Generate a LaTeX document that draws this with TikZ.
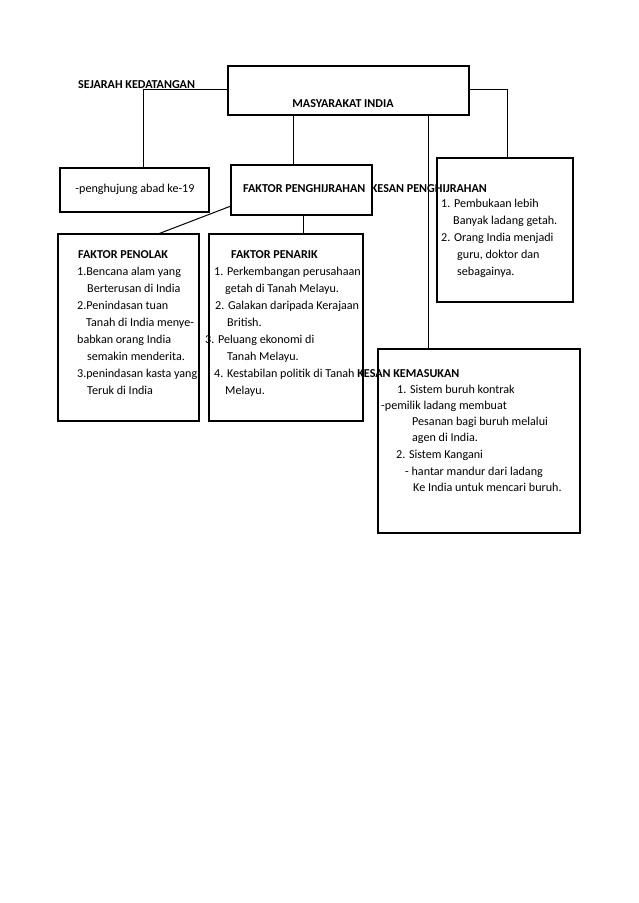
\documentclass[tikz,border=0pt]{standalone}
\usepackage{fontspec}
\setmainfont{Carlito}
\begin{document}
\begin{tikzpicture}[x=1pt,y=-1pt,
  box/.style={draw, line width=2.2pt, rectangle, inner sep=0, outer sep=0, anchor=north west},
  conn/.style={draw, line width=1pt},
  txt/.style={anchor=base west, inner sep=0, font=\fontsize{12.1}{17}\selectfont},
  ctxt/.style={anchor=base, inner sep=0, font=\fontsize{12.1}{17}\selectfont}]
\useasboundingbox (0,0) rectangle (638,903);
% texts
\node[txt] (sej) at (78,88) {\textbf{SEJARAH KEDATANGAN}};
\node[ctxt] (mi) at (343,107) {\textbf{MASYARAKAT INDIA}};
\node[ctxt] (ph) at (135,192) {-penghujung abad ke-19};
\node[txt] (fph) at (243,192) {\textbf{FAKTOR PENGHIJRAHAN\ \ KESAN PENGHIJRAHAN}};
% kesan penghijrahan
\node[txt] (k1) at (441,207) {1. Pembukaan lebih};
\node[txt] (k2) at (453,224) {Banyak ladang getah.};
\node[txt] (k3) at (441,241) {2. Orang India menjadi};
\node[txt] (k4) at (457,258) {guru, doktor dan};
\node[txt] (k5) at (457,275) {sebagainya.};
% penolak
\node[txt] (p0) at (78,258) {\textbf{FAKTOR PENOLAK}};
\node[txt] (p1) at (77,275) {1.Bencana alam yang};
\node[txt] (p2) at (87,292) {Berterusan di India};
\node[txt] (p3) at (77,309) {2.Penindasan tuan};
\node[txt] (p4) at (86,326) {Tanah di India menye-};
\node[txt] (p5) at (77,343) {babkan orang India};
\node[txt] (p6) at (87,360) {semakin menderita.};
\node[txt] (p7) at (77,377) {3.penindasan kasta yang};
\node[txt] (p8) at (87,394) {Teruk di India};
% penarik
\node[txt] (r0) at (231,258) {\textbf{FAKTOR PENARIK}};
\node[txt] (r1) at (214,275) {1. Perkembangan perusahaan};
\node[txt] (r2) at (225,292) {getah di Tanah Melayu.};
\node[txt] (r3) at (215,309) {2. Galakan daripada Kerajaan};
\node[txt] (r4) at (227,326) {British.};
\node[txt] (r5) at (205,343) {3. Peluang ekonomi di};
\node[txt] (r6) at (227,360) {Tanah Melayu.};
\node[txt] (r7) at (214,377) {4. Kestabilan politik di Tanah \textbf{KESAN KEMASUKAN}};
\node[txt] (r8) at (225,394) {Melayu.};
% kesan kemasukan
\node[txt] (m1) at (397,393) {1. Sistem buruh kontrak};
\node[txt] (m2) at (381,409) {-pemilik ladang membuat};
\node[txt] (m3) at (412,425) {Pesanan bagi buruh melalui};
\node[txt] (m4) at (412,441) {agen di India.};
\node[txt] (m5) at (396,458) {2. Sistem Kangani};
\node[txt] (m6) at (405,475) {- hantar mandur dari ladang};
\node[txt] (m7) at (413,491) {Ke India untuk mencari buruh.};
% boxes
\node[box, minimum width=241pt, minimum height=49pt] (main) at (228,66) {};
\node[box, minimum width=149pt, minimum height=44pt] (left) at (60,168) {};
\node[box, minimum width=141pt, minimum height=50pt] (fp) at (231,165) {};
\node[box, minimum width=136pt, minimum height=144pt] (kp) at (437,158) {};
\node[box, minimum width=141pt, minimum height=187pt] (pen) at (58,234) {};
\node[box, minimum width=154pt, minimum height=187pt] (par) at (209,234) {};
\node[box, minimum width=202pt, minimum height=184pt] (km) at (378,349) {};
% connectors
\coordinate (c1) at (143,89);
\coordinate (c2) at (507,89);
\coordinate (c3) at (293,0);
\coordinate (c4) at (428,0);
\coordinate (c5) at (0,206);
\coordinate (c6) at (158,0);
\coordinate (c7) at (303,0);
\draw[conn] (main.west |- c1) -- (c1) -- (c1 |- left.north);
\draw[conn] (main.east |- c2) -- (c2) -- (c2 |- kp.north);
\draw[conn] (c3 |- main.south) -- (c3 |- fp.north);
\draw[conn] (c4 |- main.south) -- (c4 |- km.north);
\draw[conn] (fp.west |- c5) -- (c6 |- pen.north);
\draw[conn] (c7 |- fp.south) -- (c7 |- par.north);
\end{tikzpicture}
\end{document}
